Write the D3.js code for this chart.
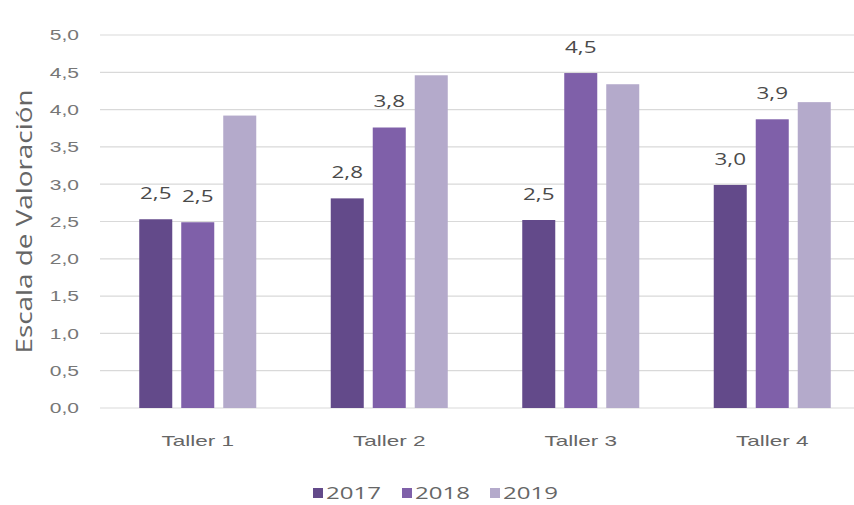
<!DOCTYPE html>
<html>
<head>
<meta charset="utf-8">
<script src="https://cdn.jsdelivr.net/npm/d3@7"></script>
<style>
  html, body { margin: 0; padding: 0; background: #fff; }
  svg { display: block; font-family: "Open Sans", "DejaVu Sans", sans-serif; }
</style>
</head>
<body>
<svg id="chart" width="854" height="505"></svg>
<script>
// Categories and series
const categories = ["Taller 1", "Taller 2", "Taller 3", "Taller 4"];
const years = ["2017", "2018", "2019"];
const values2017 = [2.53, 2.81, 2.52, 2.99];
const values2018 = [2.49, 3.76, 4.49, 3.87];
const values2019 = [3.92, 4.46, 4.34, 4.10];
const yTicks = [0, 0.5, 1, 1.5, 2, 2.5, 3, 3.5, 4, 4.5, 5];
const labelledYears = ["2017", "2018"];
const colors = ["#634a8a", "#7f60a9", "#b4aacb"];

const seriesByYear = { "2017": values2017, "2018": values2018, "2019": values2019 };

const svg = d3.select("#chart");
const W = 854, H = 505;
const plot = { left: 102, right: 868, top: 35, bottom: 408 };

const fmt = v => d3.format(".1f")(v).replace(".", ",");

// Widen text glyphs horizontally by a given factor
function widen(sel, factor) {
  sel.each(function () {
    const len = this.getComputedTextLength();
    d3.select(this)
      .attr("textLength", len * factor)
      .attr("lengthAdjust", "spacingAndGlyphs");
  });
}

const x0 = d3.scaleBand().domain(categories).range([plot.left, plot.right])
  .paddingInner(0.389).paddingOuter(0.1945);
const x1 = d3.scaleBand().domain(years).range([0, x0.bandwidth()]).paddingInner(0.214);
const y = d3.scaleLinear().domain([0, 5]).range([plot.bottom, plot.top]);
const color = d3.scaleOrdinal().domain(years).range(colors);

// Horizontal gridlines
svg.append("g")
  .selectAll("line").data(yTicks).join("line")
  .attr("x1", plot.left - 2).attr("x2", W)
  .attr("y1", d => y(d)).attr("y2", d => y(d))
  .attr("stroke", "#d9d9d9").attr("stroke-width", 1.2);

// Y axis labels
const yAxis = d3.axisLeft(y).tickValues(yTicks).tickFormat(fmt).tickSize(0).tickPadding(0);
const gy = svg.append("g").attr("transform", `translate(${plot.left - 23},0)`).call(yAxis);
gy.select(".domain").remove();
gy.selectAll("text").attr("fill", "#777777").style("font-size", "15px");
widen(gy.selectAll("text"), 1.4);

// Axis title
svg.append("text")
  .attr("transform", `translate(24,${(plot.top + plot.bottom) / 2}) rotate(-90)`)
  .attr("text-anchor", "middle")
  .attr("dy", "0.35em")
  .attr("fill", "#666666")
  .style("font-size", "22px")
  .attr("textLength", 264)
  .attr("lengthAdjust", "spacingAndGlyphs")
  .text("Escala de Valoración");

// Bars
const groups = svg.append("g").selectAll("g").data(categories).join("g")
  .attr("transform", c => `translate(${x0(c)},0)`);

groups.selectAll("rect")
  .data((c, i) => years.map(yr => ({ year: yr, value: seriesByYear[yr][i] })))
  .join("rect")
  .attr("x", d => x1(d.year))
  .attr("width", x1.bandwidth())
  .attr("y", d => y(d.value))
  .attr("height", d => y(0) - y(d.value))
  .attr("fill", d => color(d.year));

// Value labels on the 2017 and 2018 bars
const vals = groups.selectAll("text.val")
  .data((c, i) => labelledYears.map(yr => ({ year: yr, value: seriesByYear[yr][i] })))
  .join("text")
  .attr("class", "val")
  .attr("x", d => x1(d.year) + x1.bandwidth() / 2)
  .attr("y", d => y(d.value) - 26)
  .attr("dy", "0.35em")
  .attr("text-anchor", "middle")
  .attr("fill", "#4a4a4a")
  .style("font-size", "16px")
  .text(d => fmt(d.value));
widen(vals, 1.4);

// X axis labels
const xAxis = d3.axisBottom(x0).tickSize(0).tickPadding(0);
const gx = svg.append("g").attr("transform", `translate(0,${plot.bottom + 33})`).call(xAxis);
gx.select(".domain").remove();
gx.selectAll("text").attr("fill", "#666666").style("font-size", "15px").attr("dy", "0.35em");
widen(gx.selectAll("text"), 1.5);

// Legend
const legendX = [313, 402, 490];
const legend = svg.append("g").selectAll("g").data(years).join("g")
  .attr("transform", (d, i) => `translate(${legendX[i]},${493})`);
legend.append("rect")
  .attr("x", 0).attr("y", -5).attr("width", 10).attr("height", 10)
  .attr("fill", d => color(d));
const legendText = legend.append("text")
  .attr("x", 13).attr("y", 0).attr("dy", "0.35em")
  .attr("fill", "#666666").style("font-size", "16px")
  .text(d => d);
widen(legendText, 1.5);
</script>
</body>
</html>
